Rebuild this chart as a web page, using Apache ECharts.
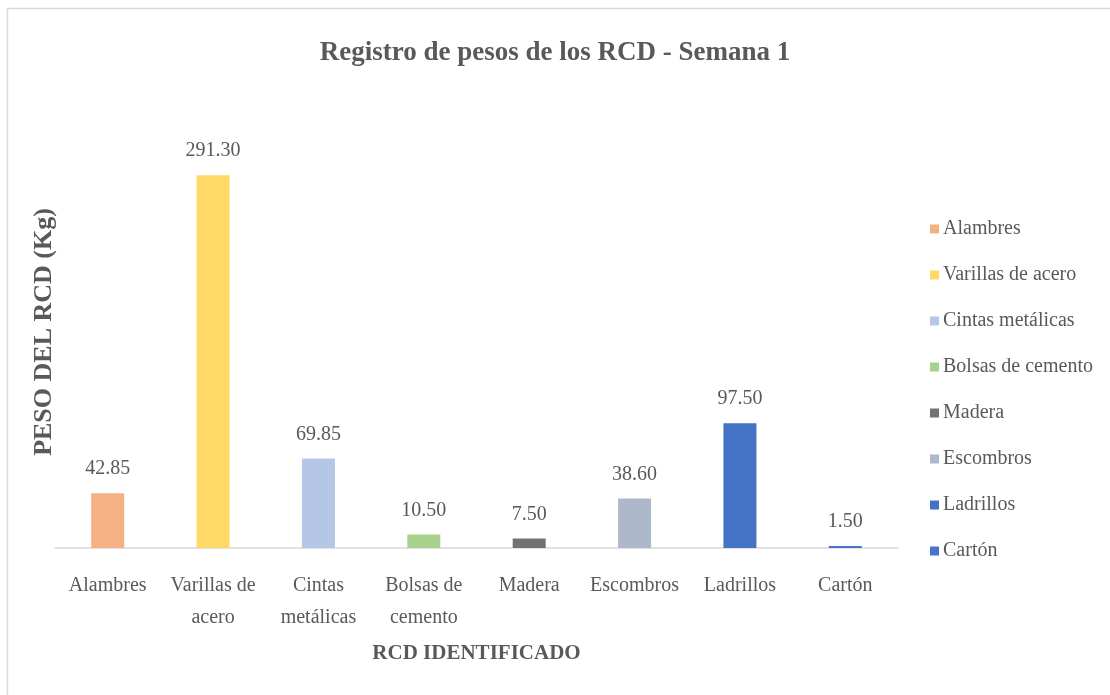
<!DOCTYPE html>
<html>
<head>
<meta charset="utf-8">
<script src="https://cdn.jsdelivr.net/npm/echarts@6/dist/echarts.min.js"></script>
<style>
    html, body { margin: 0; padding: 0; background: #fff; }
    #chart { width: 1110px; height: 695px; }
</style>
</head>
<body>
<div id="chart"></div>
<script>
(function () {

    var categories = ['Alambres', 'Varillas de acero', 'Cintas metálicas', 'Bolsas de cemento',
        'Madera', 'Escombros', 'Ladrillos', 'Cartón'];
    var axisLabels = ['Alambres', 'Varillas de\nacero', 'Cintas\nmetálicas', 'Bolsas de\ncemento',
        'Madera', 'Escombros', 'Ladrillos', 'Cartón'];
    var pesos = [42.85, 291.30, 69.85, 10.50, 7.50, 38.60, 97.50, 1.50];
    var colores = ['#F4B183', '#FFD966', '#B4C7E7', '#A9D18E', '#767171', '#ADB9CA', '#4472C4', '#4874CB'];

    var font = '"Liberation Serif", "Times New Roman", serif';
    var gris = '#595959';

    // one series per category, stacked so every bar stays centred on its slot
    var series = categories.map(function (name, i) {
        return {
            name: name,
            type: 'bar',
            stack: 'rcd',
            barWidth: 33,
            itemStyle: { color: colores[i] },
            label: {
                show: true,
                position: 'top',
                distance: 14,
                formatter: function (p) { return p.value.toFixed(2); },
                fontFamily: font,
                fontSize: 20,
                color: gris
            },
            data: pesos.map(function (v, j) { return j === i ? v : '-'; })
        };
    });

    var myChart = echarts.init(document.getElementById('chart'));
    myChart.setOption({
        animation: false,
        textStyle: { fontFamily: font },
        title: {
            text: 'Registro de pesos de los RCD - Semana 1',
            left: 'center',
            top: 35,
            textStyle: { fontFamily: font, fontSize: 27, fontWeight: 'bold', color: gris }
        },
        graphic: [{
            type: 'rect',
            shape: { x: 7.5, y: 8.5, width: 1120, height: 720 },
            style: { fill: 'none', stroke: '#D9D9D9', lineWidth: 1.5 },
            silent: true
        }, {
            type: 'text',
            x: 44,
            y: 332,
            rotation: Math.PI / 2,
            style: {
                text: 'PESO DEL RCD (Kg)',
                fontFamily: font,
                fontSize: 26,
                fontWeight: 'bold',
                fill: gris,
                align: 'center',
                verticalAlign: 'middle'
            },
            silent: true
        }],
        legend: {
            orient: 'vertical',
            left: 925,
            top: 214,
            icon: 'rect',
            itemWidth: 9,
            itemHeight: 9,
            itemGap: 26,
            textStyle: { fontFamily: font, fontSize: 20, color: gris, padding: [0, 0, 0, -1] },
            data: categories
        },
        grid: { left: 55, right: 212, top: 100, bottom: 147 },
        xAxis: {
            type: 'category',
            data: axisLabels,
            name: 'RCD IDENTIFICADO',
            nameLocation: 'middle',
            nameGap: 95,
            nameTextStyle: { fontFamily: font, fontSize: 21, fontWeight: 'bold', color: gris },
            axisLine: { lineStyle: { color: '#D9D9D9', width: 1.5 } },
            axisTick: { show: false },
            axisLabel: {
                interval: 0,
                margin: 22,
                lineHeight: 32,
                fontFamily: font,
                fontSize: 20,
                color: gris
            }
        },
        yAxis: {
            type: 'value',
            min: 0,
            max: 350,
            axisLine: { show: false },
            axisTick: { show: false },
            axisLabel: { show: false },
            splitLine: { show: false }
        },
        series: series
    });

})();
</script>
</body>
</html>
